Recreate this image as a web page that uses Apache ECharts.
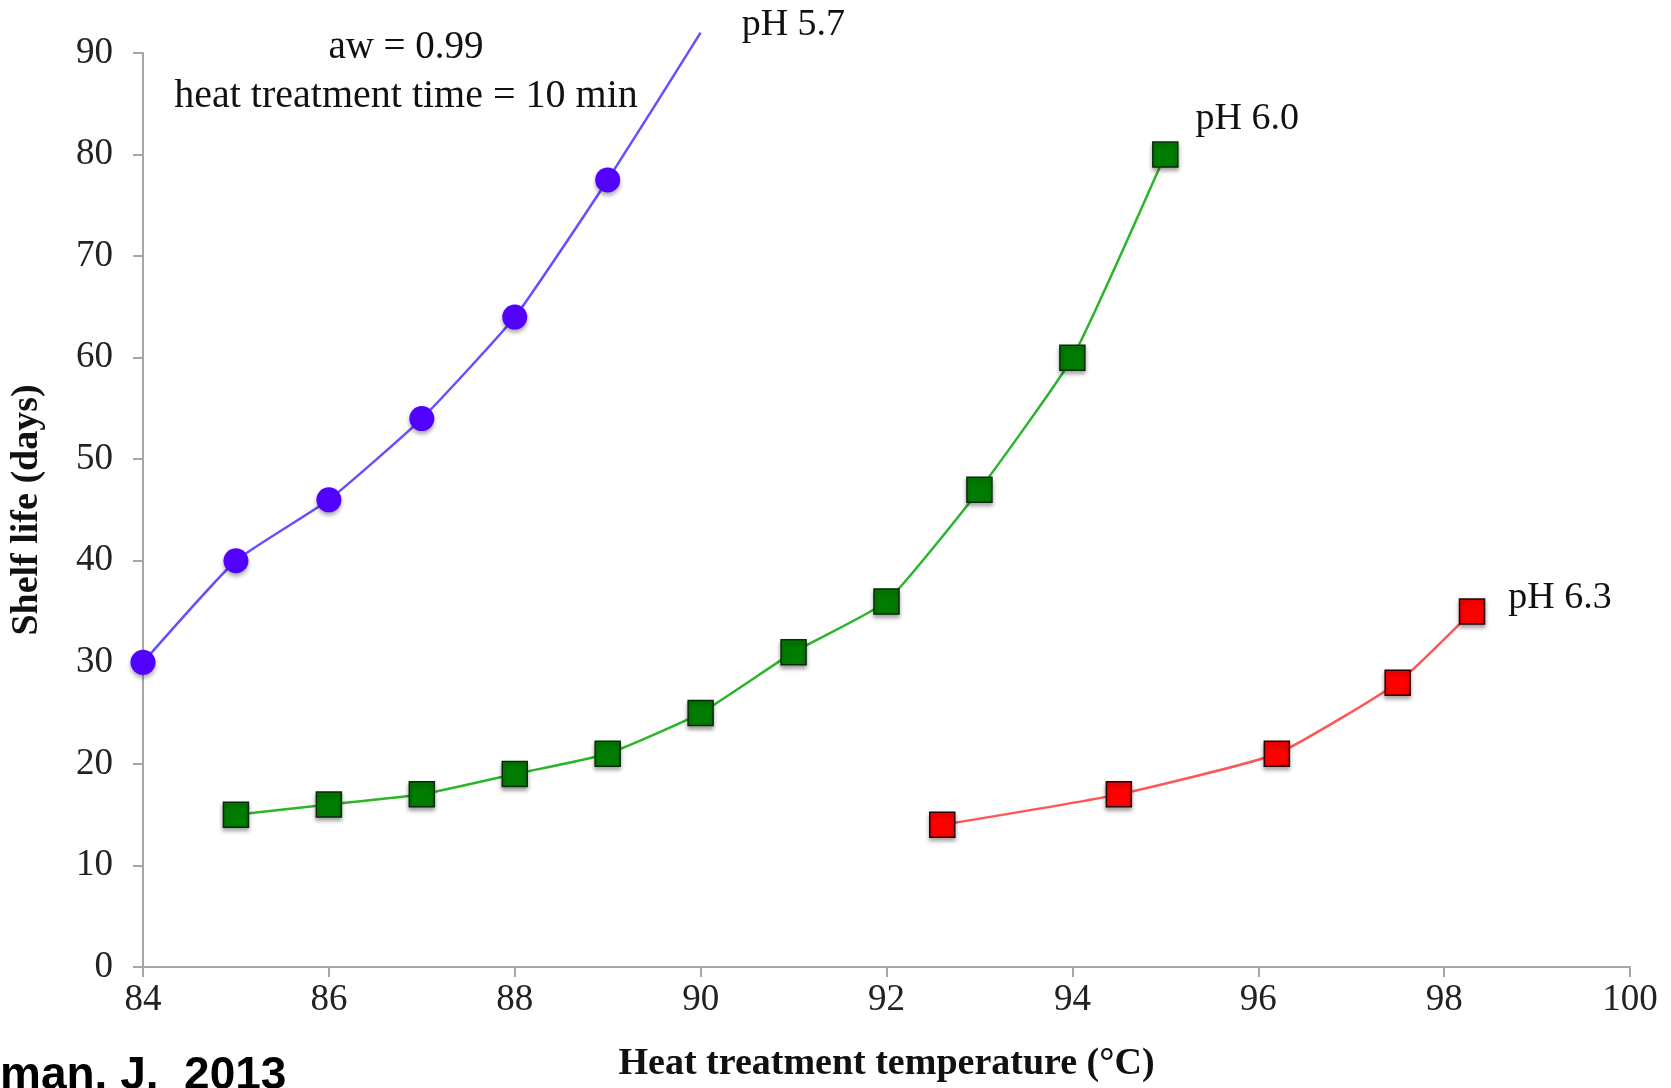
<!DOCTYPE html>
<html>
<head>
<meta charset="utf-8">
<script src="https://cdn.jsdelivr.net/npm/echarts@6/dist/echarts.min.js"></script>
<style>
  html, body { margin: 0; padding: 0; background: #fff; }
  #chart { width: 1671px; height: 1088px; }
</style>
</head>
<body>
<div id="chart"></div>
<script>
// pH 5.7 (circles) - last point is only the curve running out of the plot
var ph57X = [84, 85, 86, 87, 88, 89, 90]
var ph57Y = [30, 40, 46, 54, 64, 77.5, 92]
// pH 6.0 (green squares)
var ph60X = [85, 86, 87, 88, 89, 90, 91, 92, 93, 94, 95]
var ph60Y = [15, 16, 17, 19, 21, 25, 31, 36, 47, 60, 80]
// pH 6.3 (red squares)
var ph63X = [92.6, 94.5, 96.2, 97.5, 98.3]
var ph63Y = [14, 17, 21, 28, 35]

var xTicks = [84, 86, 88, 90, 92, 94, 96, 98, 100]
var yTicks = [0, 10, 20, 30, 40, 50, 60, 70, 80, 90]

var serif = 'Liberation Serif'

function makeData (xs, ys, labelText, labelOffset, lastHidden) {
  var out = []
  for (var i = 0; i < xs.length; i++) {
    var item = { value: [xs[i], ys[i]] }
    if (i === xs.length - 1) {
      if (lastHidden) item.symbolSize = 0
      item.label = {
        show: true,
        position: 'right',
        formatter: labelText,
        offset: labelOffset,
        fontFamily: serif,
        fontSize: 38,
        color: '#111'
      }
    }
    out.push(item)
  }
  return out
}

var shadow = {
  shadowBlur: 4,
  shadowColor: 'rgba(0,0,0,0.35)',
  shadowOffsetY: 3
}

var myChart = echarts.init(document.getElementById('chart'))

myChart.setOption({
  animation: false,
  backgroundColor: '#fff',
  grid: { left: 142, right: 41, top: 53, bottom: 118 },
  xAxis: {
    type: 'value',
    min: xTicks[0],
    max: xTicks[xTicks.length - 1],
    interval: 2,
    name: 'Heat treatment temperature (°C)',
    nameLocation: 'middle',
    nameGap: 78,
    nameTextStyle: { fontFamily: serif, fontSize: 38, fontWeight: 'bold', color: '#111' },
    axisLine: { lineStyle: { color: '#a6a6a6', width: 2 } },
    axisTick: { show: true, length: 10, lineStyle: { color: '#a6a6a6', width: 2 } },
    axisLabel: { margin: 15, fontFamily: serif, fontSize: 37, color: '#222' },
    splitLine: { show: false }
  },
  yAxis: {
    type: 'value',
    min: yTicks[0],
    max: yTicks[yTicks.length - 1],
    interval: 10,
    name: 'Shelf life (days)',
    nameLocation: 'middle',
    nameGap: 97,
    nameTextStyle: { fontFamily: serif, fontSize: 38, fontWeight: 'bold', color: '#111' },
    axisLine: { show: true, lineStyle: { color: '#a6a6a6', width: 2 } },
    axisTick: { show: true, length: 10, lineStyle: { color: '#a6a6a6', width: 2 } },
    axisLabel: { margin: 30, fontFamily: serif, fontSize: 37, color: '#222' },
    splitLine: { show: false }
  },
  graphic: [
    {
      type: 'text',
      x: 406,
      y: 48,
      style: {
        text: 'aw = 0.99',
        textAlign: 'center',
        textVerticalAlign: 'middle',
        font: '39px "Liberation Serif"',
        fill: '#111'
      }
    },
    {
      type: 'text',
      x: 406,
      y: 96,
      style: {
        text: 'heat treatment time = 10 min',
        textAlign: 'center',
        textVerticalAlign: 'middle',
        font: '40px "Liberation Serif"',
        fill: '#111'
      }
    },
    {
      type: 'text',
      left: 0,
      top: 1053,
      style: {
        text: 'man. J.  2013',
        font: 'bold 46px "Liberation Sans"',
        fill: '#000'
      }
    }
  ],
  series: [
    {
      name: 'pH 5.7',
      type: 'line',
      smooth: 0.15,
      clip: false,
      symbol: 'circle',
      symbolSize: 25,
      lineStyle: { color: '#6450ff', width: 2.5 },
      itemStyle: Object.assign({ color: '#5200ff' }, shadow),
      data: makeData(ph57X, ph57Y, 'pH 5.7', [36, -8], true)
    },
    {
      name: 'pH 6.0',
      type: 'line',
      smooth: 0.15,
      clip: false,
      symbol: 'rect',
      symbolSize: 25,
      lineStyle: { color: '#2bb52b', width: 2.5 },
      itemStyle: Object.assign({ color: '#007d00', borderColor: '#0a2a0a', borderWidth: 1.5 }, shadow),
      data: makeData(ph60X, ph60Y, 'pH 6.0', [12, -36], false)
    },
    {
      name: 'pH 6.3',
      type: 'line',
      smooth: 0.15,
      clip: false,
      symbol: 'rect',
      symbolSize: 25,
      lineStyle: { color: '#ff5555', width: 2.5 },
      itemStyle: Object.assign({ color: '#ff0000', borderColor: '#2a0000', borderWidth: 1.5 }, shadow),
      data: makeData(ph63X, ph63Y, 'pH 6.3', [18, -14], false)
    }
  ]
})
</script>
</body>
</html>
